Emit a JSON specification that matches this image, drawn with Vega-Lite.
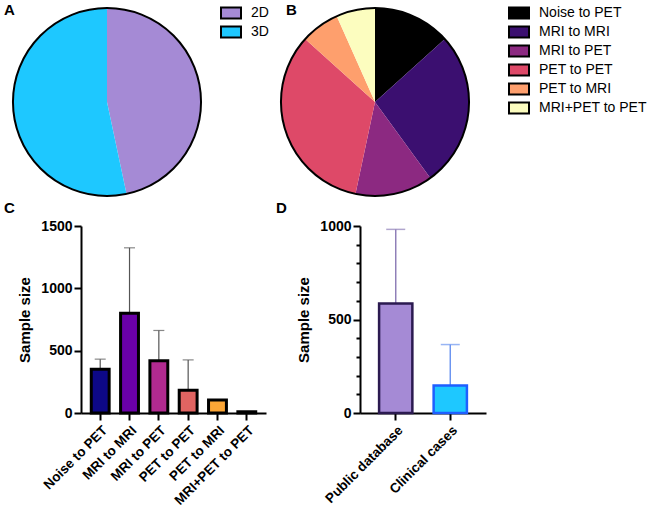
{
  "$schema": "https://vega.github.io/schema/vega-lite/v6.json",
  "padding": {"left": 4, "top": 3, "right": 2, "bottom": 2},
  "background": "white",
  "config": {
    "view": {"stroke": null},
    "font": "Liberation Sans",
    "axis": {"grid": false, "labelFont": "Liberation Sans", "titleFont": "Liberation Sans"},
    "title": {"font": "Liberation Sans", "fontSize": 15, "fontWeight": "bold", "color": "black", "anchor": "start", "frame": "group", "baseline": "alphabetic"},
    "legend": {"labelFont": "Liberation Sans", "labelFontSize": 14, "labelColor": "black", "title": null}
  },
  "datasets": {
    "pieA": [
      {"type": "2D", "value": 7, "order": 1},
      {"type": "3D", "value": 8, "order": 2}
    ],
    "pieB": [
      {"task": "Noise to PET", "value": 2, "order": 1},
      {"task": "MRI to MRI", "value": 4, "order": 2},
      {"task": "MRI to PET", "value": 2, "order": 3},
      {"task": "PET to PET", "value": 5, "order": 4},
      {"task": "PET to MRI", "value": 1, "order": 5},
      {"task": "MRI+PET to PET", "value": 1, "order": 6}
    ],
    "outline": [{"total": 15}],
    "barC": [
      {"task": "Noise to PET", "mean": 350, "upper": 432},
      {"task": "MRI to MRI", "mean": 800, "upper": 1325},
      {"task": "MRI to PET", "mean": 420, "upper": 662},
      {"task": "PET to PET", "mean": 183, "upper": 426},
      {"task": "PET to MRI", "mean": 105, "upper": null},
      {"task": "MRI+PET to PET", "mean": 10, "upper": null}
    ],
    "barD": [
      {"source": "Public database", "mean": 585, "upper": 982},
      {"source": "Clinical cases", "mean": 147, "upper": 366}
    ]
  },
  "spacing": 1,
  "resolve": {"scale": {"color": "independent", "fill": "independent", "stroke": "independent", "x": "independent", "y": "independent", "theta": "independent"}, "legend": {"color": "independent"}},
  "vconcat": [
    {
      "spacing": 8,
      "resolve": {"scale": {"color": "independent", "theta": "independent"}, "legend": {"color": "independent"}},
      "hconcat": [
        {
          "width": 188, "height": 188,
          "title": {"text": "A", "dx": -9, "dy": 14, "offset": 0},
          "resolve": {"scale": {"theta": "independent"}},
          "layer": [
            {
              "data": {"name": "pieA"},
              "mark": {"type": "arc", "outerRadius": 94},
              "encoding": {
                "theta": {"field": "value", "type": "quantitative", "stack": true},
                "order": {"field": "order", "type": "quantitative"},
                "color": {
                  "field": "type", "type": "nominal",
                  "scale": {"domain": ["2D", "3D"], "range": ["#a58ad5", "#1ec8ff"]},
                  "legend": {"orient": "none", "legendX": 209, "legendY": -4, "symbolType": "M-1.25,-0.69H1.25V0.69H-1.25Z", "symbolSize": 256, "symbolStrokeColor": "black", "symbolStrokeWidth": 2, "symbolOpacity": 1, "labelOffset": 11, "rowPadding": -2}
                }
              }
            },
            {
              "data": {"name": "outline"},
              "mark": {"type": "arc", "outerRadius": 94, "fillOpacity": 0, "stroke": "black", "strokeWidth": 2},
              "encoding": {"theta": {"field": "total", "type": "quantitative"}}
            }
          ]
        },
        {
          "width": 188, "height": 188,
          "title": {"text": "B", "dx": 5, "dy": 14, "offset": 0},
          "resolve": {"scale": {"theta": "independent"}},
          "layer": [
            {
              "data": {"name": "pieB"},
              "mark": {"type": "arc", "outerRadius": 94},
              "encoding": {
                "theta": {"field": "value", "type": "quantitative", "stack": true},
                "order": {"field": "order", "type": "quantitative"},
                "color": {
                  "field": "task", "type": "nominal",
                  "scale": {"domain": ["Noise to PET", "MRI to MRI", "MRI to PET", "PET to PET", "PET to MRI", "MRI+PET to PET"], "range": ["#000000", "#3b0f70", "#8c2981", "#de4968", "#fe9f6d", "#fcfdbf"]},
                  "legend": {"orient": "none", "legendX": 229, "legendY": -4, "symbolType": "M-1.25,-0.69H1.25V0.69H-1.25Z", "symbolSize": 256, "symbolStrokeColor": "black", "symbolStrokeWidth": 2, "symbolOpacity": 1, "labelOffset": 11, "rowPadding": -1.7}
                }
              }
            },
            {
              "data": {"name": "outline"},
              "mark": {"type": "arc", "outerRadius": 94, "fillOpacity": 0, "stroke": "black", "strokeWidth": 2},
              "encoding": {"theta": {"field": "total", "type": "quantitative"}}
            }
          ]
        }
      ]
    },
    {
      "bounds": "flush",
      "spacing": 0,
      "resolve": {"scale": {"color": "independent", "fill": "independent", "stroke": "independent", "x": "independent", "y": "independent"}},
      "hconcat": [
        {
          "width": 68, "height": 10,
          "data": {"values": []},
          "mark": {"type": "point", "opacity": 0},
          "encoding": {}
        },
        {
          "spacing": 10,
          "resolve": {"scale": {"color": "independent", "fill": "independent", "stroke": "independent", "x": "independent", "y": "independent"}},
          "hconcat": [
            {
              "width": 185, "height": 187,
              "title": {"text": "C", "dx": -77, "offset": 3},
              "data": {"name": "barC"},
              "encoding": {
                "x": {
                  "field": "task", "type": "nominal", "sort": null,
                  "scale": {"paddingInner": 0.39, "paddingOuter": 0.35},
                  "axis": {"title": null, "labelAngle": -45, "labelFontSize": 13.5, "labelFontWeight": "bold", "labelColor": "black", "domainColor": "black", "domainWidth": 2, "tickColor": "black", "tickWidth": 2, "tickSize": 7, "labelPadding": 3}
                }
              },
              "layer": [
                {
                  "transform": [{"filter": "datum.upper != null"}],
                  "mark": {"type": "rule", "color": "#555555", "strokeWidth": 1.2},
                  "encoding": {
                    "y": {"field": "mean", "type": "quantitative", "title": "Sample size", "scale": {"domain": [0, 1500], "nice": false}},
                    "y2": {"field": "upper"}
                  }
                },
                {
                  "transform": [{"filter": "datum.upper != null"}],
                  "mark": {"type": "tick", "color": "#555555", "thickness": 1.2, "size": 11},
                  "encoding": {
                    "y": {"field": "upper", "type": "quantitative", "title": "Sample size"}
                  }
                },
                {
                  "mark": {"type": "bar", "stroke": "black", "strokeWidth": 3},
                  "encoding": {
                    "y": {
                      "field": "mean", "type": "quantitative", "title": "Sample size",
                      "axis": {"values": [0, 500, 1000, 1500], "tickCount": 4, "format": "d", "labelOverlap": false, "titleFontSize": 15, "titleFontWeight": "bold", "titleColor": "black", "titlePadding": 8, "labelFontSize": 14, "labelFontWeight": "bold", "labelColor": "black", "domainColor": "black", "domainWidth": 2, "tickColor": "black", "tickWidth": 2, "tickSize": 7, "labelPadding": 2}
                    },
                    "fill": {
                      "field": "task", "type": "nominal", "legend": null,
                      "scale": {"domain": ["Noise to PET", "MRI to MRI", "MRI to PET", "PET to PET", "PET to MRI", "MRI+PET to PET"], "range": ["#0d0887", "#6a00a8", "#b12a90", "#e16462", "#fca636", "#f0f921"]}
                    }
                  }
                }
              ]
            },
            {
              "width": 126, "height": 187,
              "title": {"text": "D", "dx": -84, "offset": 3},
              "data": {"name": "barD"},
              "encoding": {
                "x": {
                  "field": "source", "type": "nominal", "sort": null,
                  "scale": {"paddingInner": 0.39, "paddingOuter": 0.35},
                  "axis": {"title": null, "labelAngle": -45, "labelFontSize": 13.5, "labelFontWeight": "bold", "labelColor": "black", "domainColor": "black", "domainWidth": 2, "tickColor": "black", "tickWidth": 2, "tickSize": 7, "labelPadding": 3}
                },
                "y": {
                  "field": "mean", "type": "quantitative", "title": "Sample size",
                  "scale": {"domain": [0, 1000], "nice": false},
                  "axis": {"tickCount": 11, "values": [0, 100, 200, 300, 400, 500, 600, 700, 800, 900, 1000], "format": "d", "labelOverlap": false, "labelExpr": "datum.value % 500 ? '' : datum.label", "tickSize": {"condition": {"test": "datum.value % 500 === 0", "value": 7}, "value": 4}, "titleFontSize": 15, "titleFontWeight": "bold", "titleColor": "black", "titlePadding": 8, "labelFontSize": 14, "labelFontWeight": "bold", "labelColor": "black", "domainColor": "black", "domainWidth": 2, "tickColor": "black", "tickWidth": 2, "labelPadding": 2}
                }
              },
              "layer": [
                {
                  "mark": {"type": "rule", "strokeWidth": 1.5},
                  "encoding": {
                    "y2": {"field": "upper"},
                    "color": {"field": "source", "type": "nominal", "legend": null, "scale": {"domain": ["Public database", "Clinical cases"], "range": ["#8f7fb8", "#6c95f0"]}}
                  }
                },
                {
                  "mark": {"type": "tick", "thickness": 1.5, "size": 19},
                  "encoding": {
                    "y": {"field": "upper", "type": "quantitative", "title": "Sample size", "scale": {"domain": [0, 1000], "nice": false},
                      "axis": {"tickCount": 11, "values": [0, 100, 200, 300, 400, 500, 600, 700, 800, 900, 1000], "format": "d", "labelOverlap": false, "labelExpr": "datum.value % 500 ? '' : datum.label", "tickSize": {"condition": {"test": "datum.value % 500 === 0", "value": 7}, "value": 4}, "titleFontSize": 15, "titleFontWeight": "bold", "titleColor": "black", "titlePadding": 8, "labelFontSize": 14, "labelFontWeight": "bold", "labelColor": "black", "domainColor": "black", "domainWidth": 2, "tickColor": "black", "tickWidth": 2, "labelPadding": 2}},
                    "color": {"field": "source", "type": "nominal", "legend": null}
                  }
                },
                {
                  "mark": {"type": "bar", "strokeWidth": 2.5},
                  "encoding": {
                    "fill": {"field": "source", "type": "nominal", "legend": null, "scale": {"domain": ["Public database", "Clinical cases"], "range": ["#a58ad5", "#1ec8ff"]}},
                    "stroke": {"field": "source", "type": "nominal", "legend": null, "scale": {"domain": ["Public database", "Clinical cases"], "range": ["#2b1a50", "#1f5fff"]}}
                  }
                }
              ]
            }
          ]
        }
      ]
    }
  ]
}
